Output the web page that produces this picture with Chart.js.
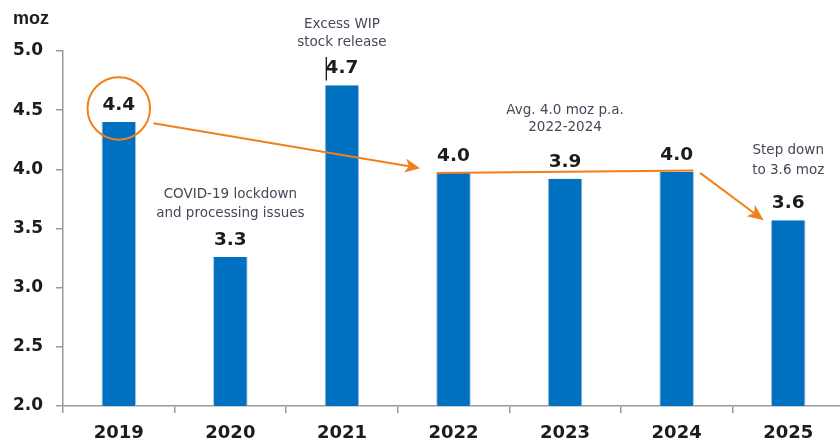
<!DOCTYPE html>
<html>
<head>
<meta charset="utf-8">
<script src="https://cdn.jsdelivr.net/npm/chart.js@4/dist/chart.umd.min.js"></script>
<style>
  html, body { margin: 0; padding: 0; background: #fff; overflow: hidden; }
  #wrap { width: 850px; height: 443px; }
</style>
</head>
<body>
<div id="wrap"><canvas id="c" width="850" height="443"></canvas></div>
<script>
// Annual output, moz
const years = ['2019', '2020', '2021', '2022', '2023', '2024', '2025'];
const output = [4.40, 3.26, 4.71, 3.97, 3.92, 3.98, 3.57];
const yTicks = [2.0, 2.5, 3.0, 3.5, 4.0, 4.5, 5.0];

// Callout notes: [category position, value position, lines]
const notes = [
  [2.0, [5.22, 5.07], ['Excess WIP', 'stock release']],
  [1.0, [3.79, 3.63], ['COVID-19 lockdown', 'and processing issues']],
  [4.0, [4.50, 4.35], ['Avg. 4.0 moz p.a.', '2022-2024']],
  [6.0, [4.16, 3.99], ['Step down', 'to 3.6 moz']]
];

const BLUE = '#0070C0';
const ORANGE = '#F0801E';
const TEXT = '#1c1c1c';
const NOTE = '#4a4658';
const AXIS = '#9a9a9a';

const px = (chart, i) => chart.scales.x.getPixelForValue(0) + i * (chart.scales.x.getPixelForValue(1) - chart.scales.x.getPixelForValue(0));
const py = (chart, v) => chart.scales.y.getPixelForValue(v);

function arrowHead(ctx, x1, y1, x2, y2, len, wid) {
  const a = Math.atan2(y2 - y1, x2 - x1);
  ctx.beginPath();
  ctx.moveTo(x2, y2);
  ctx.lineTo(x2 - len * Math.cos(a) + wid * Math.sin(a), y2 - len * Math.sin(a) - wid * Math.cos(a));
  ctx.lineTo(x2 - len * Math.cos(a) * 0.75, y2 - len * Math.sin(a) * 0.75);
  ctx.lineTo(x2 - len * Math.cos(a) - wid * Math.sin(a), y2 - len * Math.sin(a) + wid * Math.cos(a));
  ctx.closePath();
  ctx.fill();
}

const overlay = {
  id: 'overlay',
  afterDatasetsDraw(chart) {
    const ctx = chart.ctx;
    const meta = chart.getDatasetMeta(0);
    ctx.save();
    // value labels
    ctx.font = 'bold 18.5px "DejaVu Sans"';
    ctx.fillStyle = TEXT;
    ctx.textAlign = 'center';
    ctx.textBaseline = 'middle';
    meta.data.forEach((bar, i) => {
      ctx.fillText(output[i].toFixed(1), bar.x, bar.y - 17);
    });

    // notes
    ctx.font = '13.5px "DejaVu Sans"';
    ctx.fillStyle = NOTE;
    notes.forEach(([ix, ys, lines]) => {
      lines.forEach((t, k) => ctx.fillText(t, px(chart, ix), py(chart, ys[k])));
    });

    // small marker before the 2021 value
    ctx.strokeStyle = '#111';
    ctx.lineWidth = 1.3;
    ctx.beginPath();
    ctx.moveTo(px(chart, 1.86), py(chart, 4.95));
    ctx.lineTo(px(chart, 1.86), py(chart, 4.75));
    ctx.stroke();

    // orange callouts
    ctx.strokeStyle = ORANGE;
    ctx.fillStyle = ORANGE;
    ctx.lineWidth = 2;
    const unit = px(chart, 1) - px(chart, 0);
    ctx.beginPath();
    ctx.arc(px(chart, 0), py(chart, 4.515), unit * 0.28, 0, Math.PI * 2);
    ctx.stroke();

    const seg = (a, b, c, d) => [px(chart, a), py(chart, b), px(chart, c), py(chart, d)];
    // 2019 -> 2022 arrow
    let [x1, y1, x2, y2] = seg(0.31, 4.39, 2.70, 4.01);
    ctx.beginPath(); ctx.moveTo(x1, y1); ctx.lineTo(x2 - 8, y2 - 1.4); ctx.stroke();
    arrowHead(ctx, x1, y1, x2, y2, 15, 7);
    // average line 2022-2024
    [x1, y1, x2, y2] = seg(2.85, 3.97, 5.15, 3.99);
    ctx.beginPath(); ctx.moveTo(x1, y1); ctx.lineTo(x2, y2); ctx.stroke();
    // 2024 -> 2025 arrow
    [x1, y1, x2, y2] = seg(5.21, 3.97, 5.78, 3.57);
    ctx.beginPath(); ctx.moveTo(x1, y1); ctx.lineTo(x2 - 6, y2 - 4.5); ctx.stroke();
    arrowHead(ctx, x1, y1, x2, y2, 16, 7);

    // unit label
    ctx.font = 'bold 18px "Liberation Sans"';
    ctx.fillStyle = TEXT;
    ctx.textAlign = 'left';
    ctx.fillText('moz', 13, 19);
    ctx.restore();
  }
};

new Chart(document.getElementById('c'), {
  type: 'bar',
  data: {
    labels: years,
    datasets: [{
      data: output,
      backgroundColor: BLUE,
      borderColor: '#a9bde0',
      borderWidth: { left: 1, right: 1, top: 0, bottom: 0 },
      barPercentage: 0.31,
      categoryPercentage: 1.0
    }]
  },
  options: {
    responsive: false,
    animation: false,
    events: [],
    layout: { padding: { top: 51, right: 6, bottom: 0, left: 0 } },
    plugins: { legend: { display: false }, tooltip: { enabled: false }, title: { display: false } },
    scales: {
      x: {
        offset: true,
        grid: { display: true, offset: true, drawOnChartArea: false, drawTicks: true, tickLength: 7, color: AXIS, lineWidth: 1.5 },
        border: { display: true, color: AXIS, width: 1.5 },
        ticks: { color: TEXT, font: { family: 'DejaVu Sans', size: 18, weight: 'bold' }, padding: 10 },
        afterFit(s) { s.height = 37; }
      },
      y: {
        min: 2, max: 5,
        afterBuildTicks(s) { s.ticks = yTicks.map(v => ({ value: v })); },
        grid: { display: true, drawOnChartArea: false, drawTicks: true, tickLength: 7, color: AXIS, lineWidth: 1.5 },
        border: { display: true, color: AXIS, width: 1.5 },
        ticks: { color: TEXT, font: { family: 'DejaVu Sans', size: 17, weight: 'bold' }, padding: 13,
                 callback: v => Number(v).toFixed(1) },
        afterFit(s) { s.width = 63; }
      }
    }
  },
  plugins: [overlay]
});
</script>
</body>
</html>
